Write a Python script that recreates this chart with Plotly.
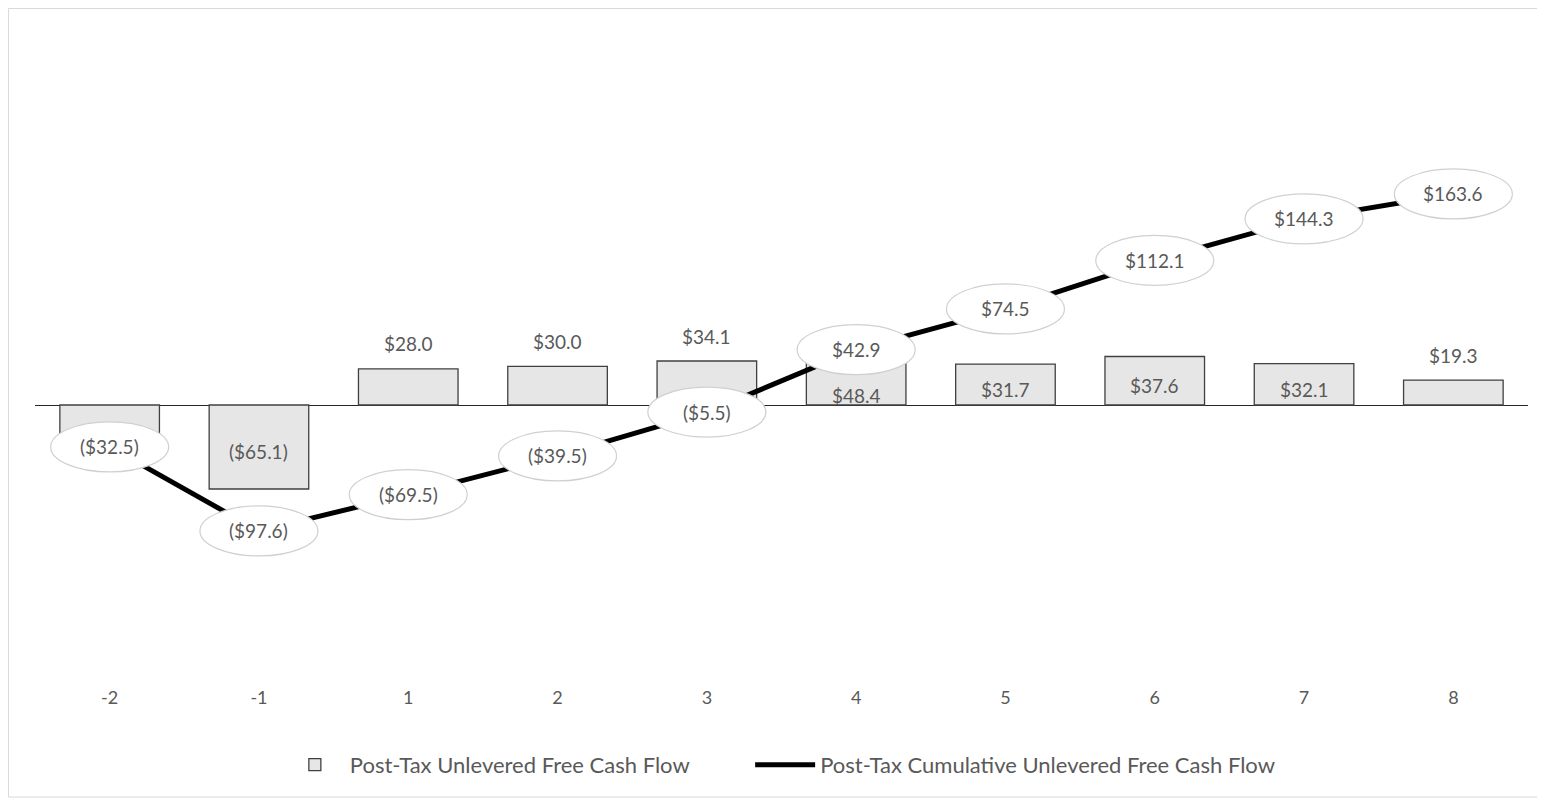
import plotly.graph_objects as go

periods = ["-2", "-1", "1", "2", "3", "4", "5", "6", "7", "8"]
fcf = [-32.5, -65.1, 28.0, 30.0, 34.1, 48.4, 31.7, 37.6, 32.1, 19.3]
cum_fcf = [-32.5, -97.6, -69.5, -39.5, -5.5, 42.9, 74.5, 112.1, 144.3, 163.6]

bar_name = "Post-Tax Unlevered Free Cash Flow"
line_name = "Post-Tax Cumulative Unlevered Free Cash Flow"

# label placement style for bar labels (not data)
bar_label_mode = [None, "inside", "outside", "outside", "outside", "base",
                  "inside", "inside", "inside", "outside"]


def money(v):
    return f"(${abs(v):.1f})" if v < 0 else f"${v:.1f}"


FONT = "Lato"
GRAY = "#595959"

fig = go.Figure()
fig.add_trace(go.Bar(
    x=periods, y=fcf, name=bar_name, legend="legend",
    marker=dict(color="#E7E6E6", line=dict(color="#404040", width=1.3)),
    hoverinfo="skip",
))
fig.add_trace(go.Scatter(
    x=periods, y=cum_fcf, name=line_name, mode="lines", legend="legend2",
    line=dict(color="black", width=5),
    hoverinfo="skip",
))

shapes = []
annotations = []
for i, (v, mode) in enumerate(zip(fcf, bar_label_mode)):
    if mode is None:
        continue
    if mode == "outside":
        y, ys = v, 25
    elif mode == "inside":
        y, ys = v / 2, -5
    else:
        y, ys = 0, 10
    annotations.append(dict(x=i, y=y, yshift=ys, text=money(v), showarrow=False,
                            font=dict(family=FONT, size=19, color=GRAY)))

for i, v in enumerate(cum_fcf):
    shapes.append(dict(type="circle", xref="x", yref="y",
                       xsizemode="pixel", ysizemode="pixel",
                       xanchor=i, yanchor=v, x0=-59, x1=59, y0=-25, y1=25,
                       fillcolor="white", line=dict(color="#D0D0D0", width=1.2),
                       layer="above"))
    annotations.append(dict(x=i, y=v, text=money(v), showarrow=False,
                            font=dict(family=FONT, size=19, color=GRAY)))

# outer chart frame
shapes.append(dict(type="rect", xref="paper", yref="paper",
                   x0=-0.0178, x1=1.0074, y0=-0.2078, y1=1.0147,
                   line=dict(color="#D9D9D9", width=1), layer="below"))

legend_common = dict(orientation="h", xanchor="left", y=-0.158, yanchor="middle",
                     font=dict(family=FONT, size=22, color=GRAY), itemwidth=60,
                     bgcolor="rgba(0,0,0,0)")

fig.update_layout(
    width=1537, height=792,
    margin=dict(l=27, r=17, t=10, b=137),
    paper_bgcolor="white", plot_bgcolor="white",
    bargap=0.333,
    showlegend=True,
    legend=dict(x=0.164, **legend_common),
    legend2=dict(x=0.479, **legend_common),
    shapes=shapes,
    annotations=annotations,
    font=dict(family=FONT, color=GRAY),
)
fig.update_xaxes(type="category", range=[-0.5, len(periods) - 0.5],
                 showgrid=False, showline=False, ticks="",
                 tickfont=dict(family=FONT, size=18, color=GRAY),
                 ticklabelstandoff=22)
fig.update_yaxes(range=[-200, 300], showgrid=False, showticklabels=False,
                 zeroline=True, zerolinecolor="#262626", zerolinewidth=1.3,
                 showline=False, ticks="")

fig.write_html("out.html")
